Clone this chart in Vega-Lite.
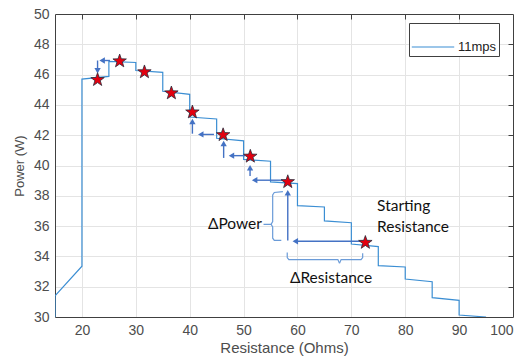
{
  "$schema": "https://vega.github.io/schema/vega-lite/v6.json",
  "width": 458,
  "height": 303,
  "autosize": {"type": "none"},
  "padding": {"left": 55, "top": 14, "right": 11, "bottom": 39},
  "background": "white",
  "config": {
    "view": {"stroke": null},
    "axis": {"labelFont": "Liberation Sans", "titleFont": "Liberation Sans", "labelColor": "#4d4d4d", "titleColor": "#4d4d4d", "titleFontWeight": "normal", "domainColor": "#404040", "gridColor": "#e4e4e4", "tickColor": "#404040"}
  },
  "datasets": {
    "line": [
      {"i": 0, "r": 15, "p": 30.0, "s": "11mps"},
      {"i": 1, "r": 15, "p": 31.4, "s": "11mps"},
      {"i": 2, "r": 20, "p": 33.35, "s": "11mps"},
      {"i": 3, "r": 20, "p": 45.7, "s": "11mps"},
      {"i": 4, "r": 25, "p": 45.88, "s": "11mps"},
      {"i": 5, "r": 25, "p": 46.87, "s": "11mps"},
      {"i": 6, "r": 30, "p": 46.8, "s": "11mps"},
      {"i": 7, "r": 30, "p": 46.27, "s": "11mps"},
      {"i": 8, "r": 35, "p": 46.15, "s": "11mps"},
      {"i": 9, "r": 35, "p": 44.9, "s": "11mps"},
      {"i": 10, "r": 40, "p": 44.7, "s": "11mps"},
      {"i": 11, "r": 40, "p": 43.2, "s": "11mps"},
      {"i": 12, "r": 45, "p": 43.07, "s": "11mps"},
      {"i": 13, "r": 45, "p": 41.8, "s": "11mps"},
      {"i": 14, "r": 50, "p": 41.63, "s": "11mps"},
      {"i": 15, "r": 50, "p": 40.4, "s": "11mps"},
      {"i": 16, "r": 55, "p": 40.28, "s": "11mps"},
      {"i": 17, "r": 55, "p": 38.92, "s": "11mps"},
      {"i": 18, "r": 60, "p": 38.8, "s": "11mps"},
      {"i": 19, "r": 60, "p": 37.35, "s": "11mps"},
      {"i": 20, "r": 65, "p": 37.26, "s": "11mps"},
      {"i": 21, "r": 65, "p": 36.34, "s": "11mps"},
      {"i": 22, "r": 70, "p": 36.22, "s": "11mps"},
      {"i": 23, "r": 70, "p": 34.82, "s": "11mps"},
      {"i": 24, "r": 75, "p": 34.65, "s": "11mps"},
      {"i": 25, "r": 75, "p": 33.39, "s": "11mps"},
      {"i": 26, "r": 80, "p": 33.3, "s": "11mps"},
      {"i": 27, "r": 80, "p": 32.51, "s": "11mps"},
      {"i": 28, "r": 85, "p": 32.33, "s": "11mps"},
      {"i": 29, "r": 85, "p": 31.28, "s": "11mps"},
      {"i": 30, "r": 90, "p": 31.1, "s": "11mps"},
      {"i": 31, "r": 90, "p": 30.13, "s": "11mps"},
      {"i": 32, "r": 95, "p": 30.0, "s": "11mps"}
    ],
    "stars": [
      {"r": 22.9, "p": 45.66},
      {"r": 27.0, "p": 46.89},
      {"r": 31.6, "p": 46.17},
      {"r": 36.6, "p": 44.78},
      {"r": 40.5, "p": 43.52},
      {"r": 46.2, "p": 42.02},
      {"r": 51.25, "p": 40.6},
      {"r": 58.2, "p": 38.92},
      {"r": 72.6, "p": 34.91}
    ],
    "arrows": [
      {"r": 72.3, "p": 35.0, "r2": 59.6, "p2": 35.0},
      {"r": 58.2, "p": 35.05, "r2": 58.2, "p2": 38.2},
      {"r": 57.3, "p": 39.03, "r2": 52.05, "p2": 39.03},
      {"r": 51.2, "p": 39.3, "r2": 51.2, "p2": 39.85},
      {"r": 50.3, "p": 40.65, "r2": 47.75, "p2": 40.65},
      {"r": 46.3, "p": 40.5, "r2": 46.3, "p2": 41.45},
      {"r": 44.5, "p": 42.05, "r2": 42.05, "p2": 42.05},
      {"r": 40.5, "p": 42.1, "r2": 40.5, "p2": 42.9},
      {"r": 25.2, "p": 46.93, "r2": 23.75, "p2": 46.93},
      {"r": 22.9, "p": 46.93, "r2": 22.9, "p2": 46.25}
    ],
    "heads": [
      {"r": 59.6, "p": 35.0, "shape": "triangle-left"},
      {"r": 58.2, "p": 38.2, "shape": "triangle-up"},
      {"r": 52.05, "p": 39.03, "shape": "triangle-left"},
      {"r": 51.2, "p": 39.85, "shape": "triangle-up"},
      {"r": 47.75, "p": 40.65, "shape": "triangle-left"},
      {"r": 46.3, "p": 41.45, "shape": "triangle-up"},
      {"r": 42.05, "p": 42.05, "shape": "triangle-left"},
      {"r": 40.5, "p": 42.9, "shape": "triangle-up"},
      {"r": 23.75, "p": 46.93, "shape": "triangle-left"},
      {"r": 22.9, "p": 46.25, "shape": "triangle-down"}
    ],
    "braces": [
      {"g": "a", "i": 0, "r": 57.3, "p": 38.27},
      {"g": "a", "i": 1, "r": 55.7, "p": 38.22},
      {"g": "a", "i": 2, "r": 55.4, "p": 38.05},
      {"g": "a", "i": 3, "r": 55.4, "p": 36.3},
      {"g": "a", "i": 4, "r": 55.1, "p": 36.12},
      {"g": "a", "i": 5, "r": 53.7, "p": 36.12},
      {"g": "b", "i": 0, "r": 55.1, "p": 36.12},
      {"g": "b", "i": 1, "r": 55.4, "p": 35.95},
      {"g": "b", "i": 2, "r": 55.4, "p": 35.2},
      {"g": "b", "i": 3, "r": 55.7, "p": 35.06},
      {"g": "b", "i": 4, "r": 57.0, "p": 35.06},
      {"g": "c", "i": 0, "r": 58.1, "p": 34.25},
      {"g": "c", "i": 1, "r": 58.1, "p": 33.92},
      {"g": "c", "i": 2, "r": 58.4, "p": 33.79},
      {"g": "c", "i": 3, "r": 67.5, "p": 33.79},
      {"g": "c", "i": 4, "r": 67.8, "p": 33.55},
      {"g": "d", "i": 0, "r": 67.8, "p": 33.55},
      {"g": "d", "i": 1, "r": 68.1, "p": 33.79},
      {"g": "d", "i": 2, "r": 71.8, "p": 33.79},
      {"g": "d", "i": 3, "r": 72.1, "p": 33.92},
      {"g": "d", "i": 4, "r": 72.1, "p": 34.2}
    ],
    "labelsRight": [
      {"r": 53.4, "p": 36.12, "t": "ΔPower"}
    ],
    "labelsCenter": [
      {"r": 66.24, "p": 32.6, "t": "ΔResistance"}
    ],
    "labelsLeft": [
      {"r": 74.78, "p": 37.33, "t": "Starting"},
      {"r": 74.78, "p": 35.91, "t": "Resistance"}
    ]
  },
  "resolve": {"axis": {"x": "independent", "y": "independent"}},
  "layer": [
    {
      "data": {"name": "stars"},
      "mark": {"type": "point", "opacity": 0, "size": 1},
      "encoding": {
        "x": {"field": "r", "type": "quantitative", "scale": {"domain": [15, 100], "nice": false, "zero": false},
              "axis": {"orient": "top", "values": [20, 30, 40, 50, 60, 70, 80, 90], "labels": false, "title": null, "grid": true, "ticks": true, "tickSize": -5, "domain": true}},
        "y": {"field": "p", "type": "quantitative", "scale": {"domain": [30, 50], "nice": false, "zero": false},
              "axis": {"orient": "right", "values": [32, 34, 36, 38, 40, 42, 44, 46, 48], "labels": false, "title": null, "grid": true, "ticks": true, "tickSize": -5, "domain": true}}
      }
    },
    {
      "data": {"name": "line"},
      "mark": {"type": "line", "strokeWidth": 1.2, "clip": true},
      "encoding": {
        "x": {"field": "r", "type": "quantitative",
              "axis": {"orient": "bottom", "values": [20, 30, 40, 50, 60, 70, 80, 90, 100], "title": "Resistance (Ohms)", "grid": false, "ticks": false, "labelFontSize": 14, "labelPadding": 6, "titleFontSize": 15, "titlePadding": 3}},
        "y": {"field": "p", "type": "quantitative",
              "axis": {"orient": "left", "values": [30, 32, 34, 36, 38, 40, 42, 44, 46, 48, 50], "title": "Power (W)", "grid": false, "ticks": false, "labelFontSize": 14, "labelPadding": 6, "titleFontSize": 13, "titlePadding": 7}},
        "order": {"field": "i", "type": "quantitative"},
        "color": {"field": "s", "type": "nominal", "scale": {"range": ["#3b8ed3"]},
                  "legend": {"orient": "none", "legendX": 354, "legendY": 9, "title": null, "symbolType": "stroke", "symbolSize": 1800, "symbolStrokeWidth": 1.2, "labelFont": "Liberation Sans", "labelFontSize": 13, "labelColor": "#222", "padding": 2, "labelOffset": 3, "strokeColor": "#404040", "fillColor": "white"}}
      }
    },
    {
      "data": {"name": "braces"},
      "mark": {"type": "line", "color": "#6a9bd8", "strokeWidth": 1.2},
      "encoding": {
        "x": {"field": "r", "type": "quantitative", "axis": null},
        "y": {"field": "p", "type": "quantitative", "axis": null},
        "detail": {"field": "g"},
        "order": {"field": "i", "type": "quantitative"}
      }
    },
    {
      "data": {"name": "arrows"},
      "mark": {"type": "rule", "color": "#4472c4", "strokeWidth": 1.4},
      "encoding": {
        "x": {"field": "r", "type": "quantitative", "axis": null},
        "y": {"field": "p", "type": "quantitative", "axis": null},
        "x2": {"field": "r2"},
        "y2": {"field": "p2"}
      }
    },
    {
      "data": {"name": "heads"},
      "mark": {"type": "point", "filled": true, "color": "#4472c4", "size": 40, "opacity": 1},
      "encoding": {
        "x": {"field": "r", "type": "quantitative", "axis": null},
        "y": {"field": "p", "type": "quantitative", "axis": null},
        "shape": {"field": "shape", "type": "nominal", "scale": null}
      }
    },
    {
      "data": {"name": "stars"},
      "mark": {"type": "point", "shape": "M0,-1L0.235,-0.324L0.951,-0.309L0.38,0.124L0.588,0.809L0,0.4L-0.588,0.809L-0.38,0.124L-0.951,-0.309L-0.235,-0.324Z", "filled": true, "fill": "#e3000f", "stroke": "#2b2b3b", "strokeWidth": 0.8, "size": 200, "opacity": 1},
      "encoding": {
        "x": {"field": "r", "type": "quantitative", "axis": null},
        "y": {"field": "p", "type": "quantitative", "axis": null}
      }
    },
    {
      "data": {"name": "labelsRight"},
      "mark": {"type": "text", "font": "Lato", "fontSize": 15.5, "color": "#111", "baseline": "middle", "align": "right"},
      "encoding": {
        "x": {"field": "r", "type": "quantitative", "axis": null},
        "y": {"field": "p", "type": "quantitative", "axis": null},
        "text": {"field": "t"}
      }
    },
    {
      "data": {"name": "labelsCenter"},
      "mark": {"type": "text", "font": "Lato", "fontSize": 15.5, "color": "#111", "baseline": "middle", "align": "center"},
      "encoding": {
        "x": {"field": "r", "type": "quantitative", "axis": null},
        "y": {"field": "p", "type": "quantitative", "axis": null},
        "text": {"field": "t"}
      }
    },
    {
      "data": {"name": "labelsLeft"},
      "mark": {"type": "text", "font": "Lato", "fontSize": 15.5, "color": "#111", "baseline": "middle", "align": "left"},
      "encoding": {
        "x": {"field": "r", "type": "quantitative", "axis": null},
        "y": {"field": "p", "type": "quantitative", "axis": null},
        "text": {"field": "t"}
      }
    }
  ]
}
